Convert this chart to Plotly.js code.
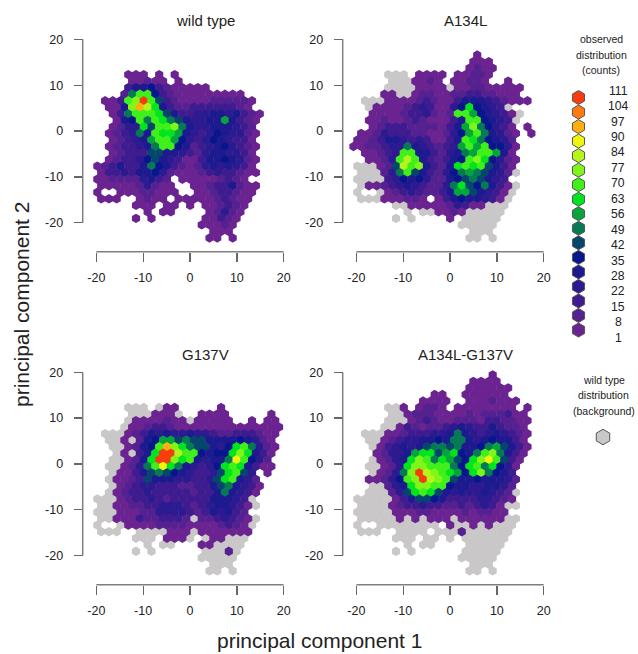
<!DOCTYPE html>
<html><head><meta charset="utf-8">
<script src="https://cdn.plot.ly/plotly-3.0.1.min.js"></script>
<style>html,body{margin:0;padding:0;background:#fff}#c{width:638px;height:654px}
.scatterlayer .trace{filter:blur(0.45px)}</style>
</head><body><div id="c"></div>
<script>
// legend values, lowest to highest; a..q in the row strings index these levels
const legendCounts = [1,8,15,22,28,35,42,49,56,63,70,77,84,90,97,104,111];
const legendColors = ['#6A2390','#55208F','#3E1C90','#2B1A90','#1C1A8E','#07168C','#04466C','#067A55','#05A53C','#00E51E','#40F01A','#80F51A','#B4F51A','#F0F510','#FFB010','#FF7A10','#F53E0C'];
const titles = ['wild type','A134L','G137V','A134L-G137V'];
const tickVals = [-20,-10,0,10,20];
const tickText = ['-20','-10','0','10','20'];
// rows of the hexagonal bins; first row is given by rowStart
const wildType = [ // rowStart 0
"....aaa.a.a",".....aabaa.a","....ceefcbaaaaa","....bhkkfcbaaaaaaaaa",".aacklqkgcbaaaabbbbba","..aaelomjecbbccccccba",
"..achkkkjgeccddeedecba","...aefkhkjhgeddeeiecba","..abddjgkklheddeeedcb","..abcdhekjjiedcdfeddba","..abcdeikkifdcdfedcca",
"..abccdehkkfebcdefdcba","..abcccggeedcbdeeddca","..abccdfgedcaaceefedba","abceccehfecbabdededca",".accdceefdbaaabcdccbaa",
"aabbbbdecb.aaaaabcba",".aaaaabdbaa..aabccebaa","a..aaabbaaa..aabccbaa",".aaa..abaa.aaaaabcbaa",".....aaa.aa.a.aabcba",
".......a.aa....abdba",".....a.a......aacba","..............aaaba","...............aaa","...............aa.a"];
const a134l = [ // rowStart -3
"................a","...............aaa","...............abaa","........aaaa.aabba","........aaba.aabba..a","........aaaa.aabbaaaaa",
"....aa..abbaabbccbbaaa","....aaaabcbaaceeedcbaaa","...aaaabcdcaadfjfedc","..aaaabccdbabkkifedca","..aabaabcbaaacekkfedc",
"..abcccbbbbaceilhfdca.a",".aabdcccbbaabdfikhedba.a","aabceedcdcaacekjhfedb","aabbcddhedcbcdikikffda",".aabcdkkeecbdehikkiea",
"..aabdkmkecbcefkljfdba","...abgmklecbejkjkgeca","....bdhkgecbdfhihgedb","....cdfefdbbefghgedc","..aabcdedcbbdhjgfheca",
"....abcdcbbceiigedca","....aaabba.acefeedca",".......aaaaabdcaa","...........aaba","............a"];
const g137v = [ // rowStart 0
".........aa.....a","........aaa...aaaa.....a",".....aaaabaa.aaaaa..a.aa",".....aabccbaaaaaaaaaaaaaa","....abcededdeddcbbcccbaa",
"....a.befiighggeeeefedba","....abefkoljhggedfjkhdba","....a.cejqqmkkfeffjljeca","....abejqqljkedeehnkfdb","....abdhknjhedcdfjkjecaa",
"...aaceghgfedccdgjkgd.a","...aabcgeeeddccdgjkedb","...abcddcccbbcceghedca","...abccdcccccbccehedca","...abccdcbccccceeedc",
"...aabbccdddcbcdeedca","...aaabbddddcbcedecb","...aaacbbcccb.bbcdcba","....aaaabbbbaaaabcba","..........aaa.aaaaaaa",
".........aaa...aa","..............aa",".................b"];
const a134lg137v = [ // rowStart -5
"..................a","...............aaaa","...............aaaaaa","..........aa..aaaaaa",".........aaaa..aaabaaa",
"......a.abba.aaaaaaaa.a",".......abbbaaaababbbcaa",".......abcbaabbbaccbbaa","......acbabbcdedccecbba","....aabcccddehedcdedcba",
"....abcddeefehhedefeeca","...acdedeghhgheefhigeca","...abddeijjgijfehklheca","...abdejlkhjigfjlnkgca","....abdjllkkkhfjkhjfda",
"...abdhlqmlkjifjlhfec","..aabdfklqmlkgeefeeedb","....bdejllkkfeeddeedb",".....bdgjkjgededdedcb",".....aceggfeccccddcba",
".....abccdccbbcbcdca",".....aaabbaaaababbaa","......a.a.aaa.aaaaaa","............a..a.a","..............b"];
const panelRows = [wildType,a134l,g137v,a134lg137v];
const panelStart = [0,-3,0,-5];

// lattice of the bins in data units
const X0=-19.78, DX=1.651, Y0=12.29, DY=1.425;
function cells(rows,start){
  const x=[],y=[],lev=[];
  rows.forEach((s,n)=>{
    const r=start+n, odd=Math.abs(r)%2===1;
    for(let i=0;i<s.length;i++){
      if(s[i]==='.')continue;
      x.push(X0+(i-(odd?0.5:0))*DX); y.push(Y0-r*DY); lev.push(s.charCodeAt(i)-97);
    }
  });
  return {x,y,lev};
}
const W=638,H=654;
const fx=p=>p/W, fy=p=>1-p/H;
// panel frames in pixels: x of -20, x of 20, y of 20, y of -20, x axis y, y axis x, title x, title y
const frames=[[96.3,283.7,39.3,222.7,251.7,82.7,205.5,20.7],[356.3,543.7,39.3,222.7,251.7,342.7,465,20.7],
              [96.3,283.7,372.2,555.6,584.7,82.7,205.5,354],[356.3,543.7,372.2,555.6,584.7,342.7,465,354]];
const XR=22, YB=-26;
const HEX=9.4, GREY='#C9C7C7', AXIS='#7F7F7F', TXT='#222222', FONT='Liberation Sans, Arial, sans-serif';
const layout={width:W,height:H,margin:{l:0,r:0,t:0,b:0},paper_bgcolor:'#fff',plot_bgcolor:'rgba(0,0,0,0)',showlegend:false,
  font:{family:FONT,color:TXT,size:12.5},annotations:[],shapes:[]};
const data=[];
const bg=cells(wildType,0);
frames.forEach((f,k)=>{
  const n=k+1, xa='x'+n, ya='y'+n;
  const ux=(f[1]-f[0])/40, uy=(f[3]-f[2])/40, cx=(f[0]+f[1])/2;
  layout['xaxis'+n]={domain:[fx(cx-XR*ux),fx(cx+XR*ux)],range:[-XR,XR],anchor:'free',position:fy(f[4]),tickmode:'array',tickvals:tickVals,ticktext:tickText,
    showgrid:false,zeroline:false,showline:false,ticks:'outside',ticklen:9,tickwidth:1.3,tickcolor:'#666',ticklabelstandoff:5,
    tickfont:{family:FONT,size:12.5,color:TXT},fixedrange:true};
  layout['yaxis'+n]={domain:[fy(f[2]+(20-YB)*uy),fy(f[2])],range:[YB,20],anchor:'free',position:fx(f[5]),tickmode:'array',tickvals:tickVals,ticktext:tickText,
    showgrid:false,zeroline:false,showline:false,ticks:'outside',ticklen:9,tickwidth:1.3,tickcolor:'#666',ticklabelstandoff:8,
    tickfont:{family:FONT,size:12.5,color:TXT},fixedrange:true};
  layout.shapes.push({type:'line',xref:'paper',yref:ya,x0:fx(f[5]),x1:fx(f[5]),y0:-20,y1:20,line:{color:AXIS,width:1.5}});
  layout.shapes.push({type:'line',xref:xa,yref:'paper',x0:-20,x1:20,y0:fy(f[4]),y1:fy(f[4]),line:{color:AXIS,width:1.5}});
  if(k>0) data.push({type:'scatter',mode:'markers',xaxis:xa,yaxis:ya,x:bg.x,y:bg.y,cliponaxis:false,hoverinfo:'skip',
    marker:{symbol:'hexagon',size:HEX,color:GREY,line:{width:0}}});
  const c=cells(panelRows[k],panelStart[k]);
  const cols=c.lev.map(l=>legendColors[l]);
  data.push({type:'scatter',mode:'markers',xaxis:xa,yaxis:ya,x:c.x,y:c.y,cliponaxis:false,
    text:c.lev.map(l=>String(legendCounts[l])),hoverinfo:'text',
    marker:{symbol:'hexagon',size:HEX,color:cols,line:{width:0}}});
  layout.annotations.push({xref:'paper',yref:'paper',x:fx(f[6]),y:fy(f[7]),text:titles[k],showarrow:false,
    font:{family:FONT,size:15,color:TXT},xanchor:'center',yanchor:'middle'});
});
// legend drawn on a page-sized hidden axis pair
layout.xaxis5={domain:[0,1],range:[0,W],visible:false,fixedrange:true};
layout.yaxis5={domain:[0,1],range:[H,0],visible:false,fixedrange:true};
const legY=legendCounts.map((_,i)=>330-i*14.53);
data.push({type:'scatter',mode:'markers',xaxis:'x5',yaxis:'y5',x:legendCounts.map(()=>578.5),y:legY,cliponaxis:false,hoverinfo:'skip',
  marker:{symbol:'hexagon',size:14,color:legendColors,line:{width:1,color:'#555'}}});
data.push({type:'scatter',mode:'markers',xaxis:'x5',yaxis:'y5',x:[603],y:[437],cliponaxis:false,hoverinfo:'skip',
  marker:{symbol:'hexagon',size:15.5,color:GREY,line:{width:1,color:'#555'}}});
const note=(x,y,t,s)=>layout.annotations.push({xref:'paper',yref:'paper',x:fx(x),y:fy(y),text:t,showarrow:false,
  font:{family:FONT,size:s,color:TXT},xanchor:'center',yanchor:'middle'});
legendCounts.forEach((v,i)=>note(618,337.7-i*15.44,String(v),12.2));
note(601,39.5,'observed',10.5);note(601,54.5,'distribution',10.5);note(601,70,'(counts)',10.5);
note(603.5,380,'wild type',10.5);note(603.5,395,'distribution',10.5);note(603.5,411,'(background)',10.5);
note(320,640.5,'principal component 1',21);
layout.annotations.push({xref:'paper',yref:'paper',x:fx(21),y:fy(305),text:'principal component 2',textangle:-90,showarrow:false,
  font:{family:FONT,size:21,color:TXT},xanchor:'center',yanchor:'middle'});
Plotly.newPlot('c',data,layout,{displayModeBar:false,staticPlot:true});
</script></body></html>
